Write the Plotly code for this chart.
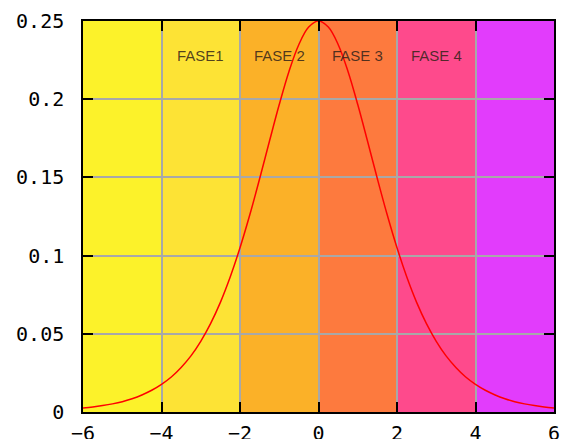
import plotly.graph_objects as go

x_vals = [-6.0, -5.75, -5.5, -5.25, -5.0, -4.75, -4.5, -4.25, -4.0, -3.75, -3.5, -3.25,
          -3.0, -2.75, -2.5, -2.25, -2.0, -1.75, -1.5, -1.25, -1.0, -0.75, -0.5, -0.25,
          0.0, 0.25, 0.5, 0.75, 1.0, 1.25, 1.5, 1.75, 2.0, 2.25, 2.5, 2.75, 3.0, 3.25,
          3.5, 3.75, 4.0, 4.25, 4.5, 4.75, 5.0, 5.25, 5.5, 5.75, 6.0]
y_vals = [0.0025, 0.0032, 0.0041, 0.0052, 0.0066, 0.0085, 0.0109, 0.0139, 0.0177, 0.0224,
          0.0285, 0.0359, 0.0452, 0.0565, 0.0701, 0.0863, 0.1050, 0.1261, 0.1491, 0.1731,
          0.1966, 0.2179, 0.2350, 0.2461, 0.2500, 0.2461, 0.2350, 0.2179, 0.1966, 0.1731,
          0.1491, 0.1261, 0.1050, 0.0863, 0.0701, 0.0565, 0.0452, 0.0359, 0.0285, 0.0224,
          0.0177, 0.0139, 0.0109, 0.0085, 0.0066, 0.0052, 0.0041, 0.0032, 0.0025]

band_edges = [-6, -4, -2, 0, 2, 4, 6]
band_colors = ["#fcf22a", "#fde335", "#fbb128", "#fd7a3e", "#fe4a8c", "#e23cfc"]

phase_labels = ["FASE1", "FASE 2", "FASE 3", "FASE 4"]
phase_x = [-3, -1, 1, 3]
phase_y = [0.228, 0.228, 0.228, 0.228]

fig = go.Figure()

for i, c in enumerate(band_colors):
    fig.add_shape(type="rect", xref="x", yref="y",
                  x0=band_edges[i], x1=band_edges[i + 1], y0=0, y1=0.25,
                  fillcolor=c, line=dict(width=0), layer="below")

fig.add_trace(go.Scatter(x=x_vals, y=y_vals, mode="lines",
                         line=dict(color="#ff0000", width=1.5, shape="spline"),
                         hoverinfo="skip", showlegend=False))

for lab, px, py in zip(phase_labels, phase_x, phase_y):
    fig.add_annotation(x=px, y=py, text=lab, showarrow=False,
                       font=dict(family="Liberation Sans", size=15, color="rgba(50,35,25,0.85)"))

axis_common = dict(
    showline=True, linecolor="black", linewidth=1.5, mirror="ticks",
    ticks="inside", ticklen=10, tickwidth=1.5, tickcolor="black",
    showgrid=True, gridcolor="#a8a8a8", gridwidth=1.5, zeroline=False,
    automargin=False,
    tickfont=dict(family="DejaVu Sans Mono", size=20, color="black"),
)

fig.update_xaxes(range=[-6, 6], tickmode="linear", tick0=-6, dtick=2,
                 ticklabelstandoff=2, **axis_common)
fig.update_yaxes(range=[0, 0.25], tickmode="linear", tick0=0, dtick=0.05,
                 ticklabelstandoff=13, **axis_common)

# page body has an 8px default margin, so the figure is sized to fit the window
fig.update_layout(width=565, height=431,
                  margin=dict(l=75, r=19, t=13, b=27),
                  paper_bgcolor="white", plot_bgcolor="white")

fig.write_html("out.html")
